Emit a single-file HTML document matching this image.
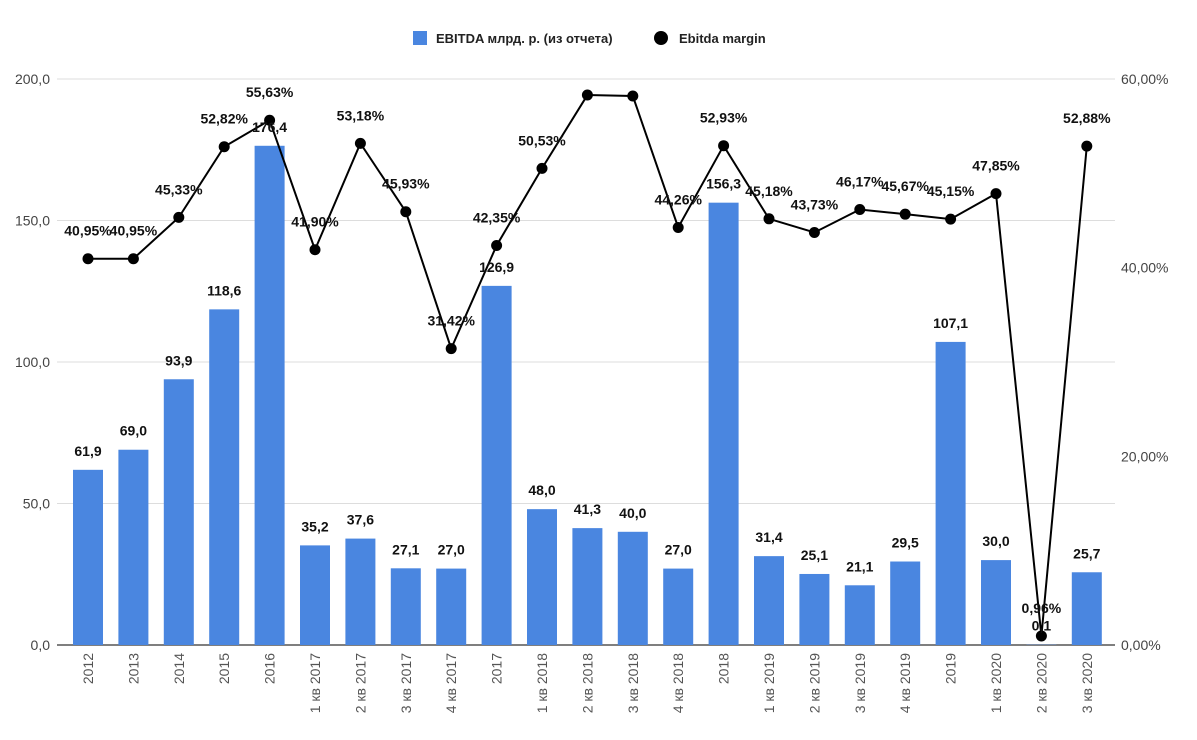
<!DOCTYPE html>
<html><head><meta charset="utf-8"><style>
body{margin:0;background:#fff;}
svg{display:block;font-family:"Liberation Sans",sans-serif;}
</style></head><body>
<svg id="chart" width="1197" height="740" viewBox="0 0 1197 740">
<g id="legend">
<rect x="413" y="31" width="14" height="14" fill="#4a86e0"/>
<text x="436" y="43" font-size="13" font-weight="bold" fill="#222">EBITDA млрд. р. (из отчета)</text>
<circle cx="661" cy="38" r="7" fill="#000"/>
<text x="679" y="43" font-size="13" font-weight="bold" fill="#222">Ebitda margin</text>
</g>
<g id="grid"></g><g id="bars"></g><g id="line"></g><g id="labels"></g><g id="xlab"></g>
</svg>
<script>
const categories=["2012","2013","2014","2015","2016","1 кв 2017","2 кв 2017","3 кв 2017","4 кв 2017","2017","1 кв 2018","2 кв 2018","3 кв 2018","4 кв 2018","2018","1 кв 2019","2 кв 2019","3 кв 2019","4 кв 2019","2019","1 кв 2020","2 кв 2020","3 кв 2020"];
const ebitda=[61.9,69.0,93.9,118.6,176.4,35.2,37.6,27.1,27.0,126.9,48.0,41.3,40.0,27.0,156.3,31.4,25.1,21.1,29.5,107.1,30.0,0.1,25.7];
const margin=[40.95,40.95,45.33,52.82,55.63,41.90,53.18,45.93,31.42,42.35,50.53,58.3,58.2,44.26,52.93,45.18,43.73,46.17,45.67,45.15,47.85,0.96,52.88];
const marginShown=[1,1,1,1,1,1,1,1,1,1,1,0,0,1,1,1,1,1,1,1,1,1,1];
const leftTicks=[0,50,100,150,200];
const rightTicks=[0,20,40,60];
const NS="http://www.w3.org/2000/svg";
const x0=88,step=45.4,bw=30,yB=645,yT=79;
const xs=i=>x0+i*step;
const yl=v=>yB-v/200*(yB-yT);
const yr=v=>yB-v/60*(yB-yT);
const fmt=(v,d)=>v.toFixed(d).replace('.',',');
function mk(t,a,p,txt){const e=document.createElementNS(NS,t);for(const k in a)e.setAttribute(k,a[k]);if(txt!==undefined)e.textContent=txt;document.getElementById(p).appendChild(e);return e;}
leftTicks.forEach(v=>{
 const l=mk('line',{x1:57,x2:1115,y1:yl(v),y2:yl(v),stroke:v===0?'#555':'#ddd','stroke-width':v===0?1.5:1},'grid');
 
 
 const t=mk('text',{x:50,y:yl(v)+5,'text-anchor':'end','font-size':14,fill:'#444'},'grid',fmt(v,1));
 
 
});
rightTicks.forEach(v=>{
 const t=mk('text',{x:1121,y:yr(v)+5,'font-size':14,fill:'#444'},'grid',fmt(v,2)+'%');
 
 
});
ebitda.forEach((v,i)=>{
 const r=mk('rect',{x:xs(i)-bw/2,y:yl(v),width:bw,height:yB-yl(v),fill:'#4a86e0'},'bars');
 
 
 const t=mk('text',{x:xs(i),y:yl(v)-14,'text-anchor':'middle','font-size':14,'font-weight':'bold',fill:'#111'},'labels',fmt(v,1));
 
 
 const xl=mk('text',{transform:`translate(${xs(i)+5},653) rotate(-90)`,'text-anchor':'end','font-size':14,fill:'#555'},'xlab',categories[i]);
 
 
});
const pl=mk('polyline',{points:margin.map((v,i)=>xs(i)+','+yr(v)).join(' '),fill:'none',stroke:'#000','stroke-width':2},'line');


margin.forEach((v,i)=>{
 const c=mk('circle',{cx:xs(i),cy:yr(v),r:5.5,fill:'#000'},'line');
 
 
 if(marginShown[i]){
 const t=mk('text',{x:xs(i),y:yr(v)-23,'text-anchor':'middle','font-size':14,'font-weight':'bold',fill:'#111'},'labels',fmt(v,2)+'%');
 
 
 }
});
</script>
</body></html>
